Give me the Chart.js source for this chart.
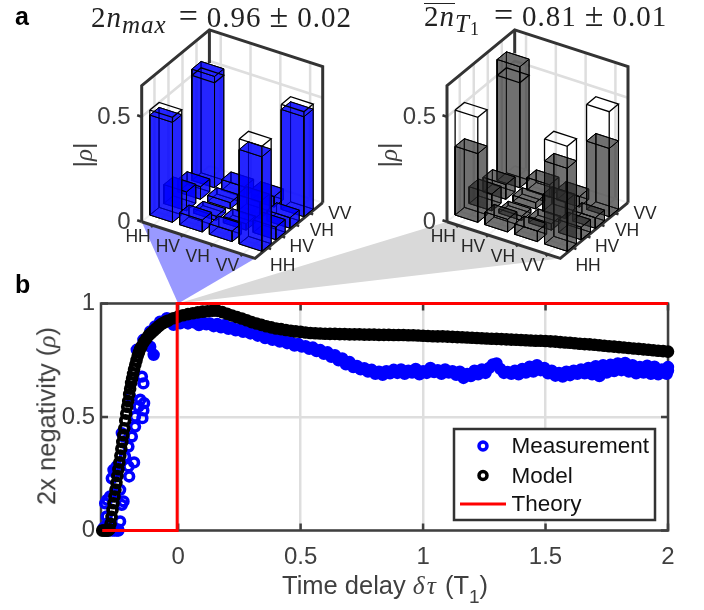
<!DOCTYPE html>
<html>
<head>
<meta charset="utf-8">
<script src="https://cdn.jsdelivr.net/npm/chart.js@4"></script>
<style>
    html, body { margin: 0; padding: 0; background: #fff; }
    #wrap { position: relative; width: 704px; height: 610px; overflow: hidden; }
    canvas { position: absolute; left: 0; top: 0; }
    .txt { position: absolute; white-space: nowrap; line-height: 1; }
    .sans { font-family: "Liberation Sans", Arial, sans-serif; color: #404040; }
    .sans i { font-family: "Liberation Serif", serif; }
    .tex { font-family: "Liberation Serif", serif; color: #222; font-size: 29px; letter-spacing: 1px; }
    .tex sub { font-size: 25px; vertical-align: -6px; line-height: 0; }
    .tex .op { font-size: 34px; line-height: 0; margin: 0 8px; }
    .tag { font-family: "Liberation Sans", Arial, sans-serif; font-weight: bold; font-size: 25px; color: #000; }
</style>
</head>
<body>
<div id="wrap">
    <canvas id="densityChart" width="704" height="610"></canvas>
    <canvas id="negativityChart" width="704" height="610"></canvas>
    <div class="txt tag" style="left:15px;top:4px">a</div>
    <div class="txt tag" style="left:15px;top:272px">b</div>
    <div class="txt tex" style="left:91px;top:3px">2<i>n<sub>max</sub></i><span class="op" style="margin-left:12px">=</span>0.96<span class="op">±</span>0.02</div>
    <div class="txt tex" style="left:424px;top:2px"><span style="display:inline-block;border-top:1.5px solid #222;line-height:24px;height:24px">2<i>n</i></span><i><sub>T<span style="font-size:18px;vertical-align:-3px;font-style:normal">1</span></sub></i><span class="op" style="margin-left:14px">=</span>0.81<span class="op">±</span>0.01</div>
    <div class="txt sans" style="left:282px;top:573px;font-size:25.5px">Time delay <i style="letter-spacing:2px">δτ</i> (T<sub style="font-size:19px;vertical-align:-9px;line-height:0">1</sub>)</div>
    <div class="txt sans" style="left:47px;top:416px;font-size:25.5px;transform:translate(-50%,-50%) rotate(-90deg)">2x negativity (<i>ρ</i>)</div>
    <div class="txt sans" style="left:83px;top:155px;font-size:25px;transform:translate(-50%,-50%) rotate(-90deg)">|<i>ρ</i>|</div>
    <div class="txt sans" style="left:388px;top:155px;font-size:25px;transform:translate(-50%,-50%) rotate(-90deg)">|<i>ρ</i>|</div>
</div>
<script>
// Panel a: density matrix bars, rows go along the front left axis
const basisLabels = ['HH', 'HV', 'VH', 'VV'];
const rhoMeasured = [
    [0.476, 0.09, 0.06, 0.53],
    [0.057, 0.02, 0.03, 0.05],
    [0.05, 0.03, 0.08, 0.05],
    [0.45, 0.06, 0.05, 0.476]
];
const rhoAveraged = [
    [0.327, 0.08, 0.07, 0.576],
    [0.06, 0.02, 0.03, 0.06],
    [0.05, 0.03, 0.08, 0.05],
    [0.395, 0.06, 0.05, 0.325]
];
const rhoIdeal = [
    [0.5, 0, 0, 0.5],
    [0, 0, 0, 0],
    [0, 0, 0, 0],
    [0.5, 0, 0, 0.5]
];
const rhoTicks = [0, 0.5];
const rhoTop = 0.648;

// Panel b
const delayTicks = [0, 0.5, 1, 1.5, 2];
const negativityTicks = [0, 0.5, 1];
const theoryX = [-0.31, -0.004, -0.004, 2];
const theoryY = [0, 0, 1, 1];
const modelX = [-0.31, -0.304, -0.298, -0.292, -0.286, -0.28, -0.276, -0.272, -0.268, -0.264, -0.26, -0.256, -0.252, -0.248, -0.244, -0.24, -0.236, -0.232, -0.228, -0.224, -0.22, -0.216, -0.212, -0.208, -0.204, -0.2, -0.196, -0.192, -0.188, -0.184, -0.18, -0.175, -0.17, -0.165, -0.16, -0.155, -0.15, -0.14, -0.13, -0.12, -0.11, -0.1, -0.09, -0.08, -0.07, -0.06, -0.05, -0.04, -0.02, 0, 0.02, 0.04, 0.06, 0.08, 0.1, 0.12, 0.14, 0.16, 0.18, 0.2, 0.22, 0.24, 0.26, 0.28, 0.3, 0.32, 0.34, 0.36, 0.38, 0.4, 0.42, 0.44, 0.46, 0.48, 0.5, 0.52, 0.54, 0.56, 0.58, 0.6, 0.62, 0.64, 0.66, 0.68, 0.7, 0.72, 0.74, 0.76, 0.78, 0.8, 0.82, 0.84, 0.86, 0.88, 0.9, 0.92, 0.94, 0.96, 0.98, 1, 1.02, 1.04, 1.06, 1.08, 1.1, 1.12, 1.14, 1.16, 1.18, 1.2, 1.22, 1.24, 1.26, 1.28, 1.3, 1.32, 1.34, 1.36, 1.38, 1.4, 1.42, 1.44, 1.46, 1.48, 1.5, 1.52, 1.54, 1.56, 1.58, 1.6, 1.62, 1.64, 1.66, 1.68, 1.7, 1.72, 1.74, 1.76, 1.78, 1.8, 1.82, 1.84, 1.86, 1.88, 1.9, 1.92, 1.94, 1.96, 1.98, 2];
const modelY = [0, 0, 0, 0, 0, 0.005, 0.03, 0.06, 0.09, 0.12, 0.15, 0.18, 0.21, 0.24, 0.27, 0.3, 0.33, 0.36, 0.39, 0.42, 0.45, 0.485, 0.515, 0.545, 0.57, 0.6, 0.625, 0.65, 0.67, 0.69, 0.71, 0.73, 0.75, 0.77, 0.785, 0.8, 0.81, 0.83, 0.845, 0.86, 0.87, 0.88, 0.89, 0.9, 0.908, 0.915, 0.92, 0.925, 0.935, 0.942, 0.948, 0.953, 0.957, 0.961, 0.964, 0.966, 0.968, 0.968, 0.962, 0.955, 0.947, 0.94, 0.934, 0.926, 0.918, 0.912, 0.906, 0.9, 0.895, 0.89, 0.887, 0.883, 0.88, 0.877, 0.875, 0.872, 0.87, 0.869, 0.868, 0.867, 0.866, 0.866, 0.865, 0.865, 0.864, 0.864, 0.864, 0.863, 0.863, 0.863, 0.862, 0.862, 0.862, 0.861, 0.861, 0.861, 0.86, 0.86, 0.859, 0.858, 0.857, 0.856, 0.855, 0.855, 0.854, 0.853, 0.852, 0.851, 0.85, 0.849, 0.848, 0.847, 0.846, 0.845, 0.844, 0.843, 0.842, 0.841, 0.84, 0.839, 0.838, 0.837, 0.836, 0.836, 0.835, 0.833, 0.832, 0.83, 0.828, 0.827, 0.825, 0.823, 0.821, 0.82, 0.818, 0.816, 0.814, 0.812, 0.81, 0.808, 0.806, 0.804, 0.802, 0.8, 0.798, 0.796, 0.794, 0.792, 0.79, 0.788];
const measuredX = [-0.305, -0.295, -0.285, -0.28, -0.27, -0.26, -0.25, -0.245, -0.292, -0.285, -0.264, -0.244, -0.298, -0.223, -0.257, -0.278, -0.237, -0.237, -0.23, -0.29, -0.271, -0.264, -0.251, -0.257, -0.2, -0.203, -0.18, -0.217, -0.203, -0.23, -0.223, -0.189, -0.176, -0.176, -0.146, -0.142, -0.139, -0.155, -0.162, -0.196, -0.142, -0.148, -0.169, -0.142, -0.1, -0.114, -0.094, -0.114, -0.074, -0.046, -0.019, 0.008, 0.025, 0.04, 0.055, 0.07, 0.085, 0.1, 0.115, 0.13, 0.145, 0.16, 0.175, 0.19, 0.205, 0.22, 0.235, 0.25, 0.265, 0.28, 0.295, 0.31, 0.325, 0.34, 0.355, 0.37, 0.385, 0.4, 0.415, 0.43, 0.445, 0.46, 0.475, 0.49, 0.505, 0.52, 0.535, 0.55, 0.565, 0.58, 0.595, 0.61, 0.625, 0.64, 0.655, 0.67, 0.685, 0.7, 0.715, 0.73, 0.745, 0.76, 0.775, 0.79, 0.805, 0.82, 0.835, 0.85, 0.865, 0.88, 0.895, 0.91, 0.925, 0.94, 0.955, 0.97, 0.985, 1, 1.015, 1.03, 1.045, 1.06, 1.075, 1.09, 1.105, 1.12, 1.135, 1.15, 1.165, 1.18, 1.195, 1.21, 1.225, 1.24, 1.255, 1.27, 1.285, 1.3, 1.315, 1.33, 1.345, 1.36, 1.375, 1.39, 1.405, 1.42, 1.435, 1.45, 1.465, 1.48, 1.495, 1.51, 1.525, 1.54, 1.555, 1.57, 1.585, 1.6, 1.615, 1.63, 1.645, 1.66, 1.675, 1.69, 1.705, 1.72, 1.735, 1.75, 1.765, 1.78, 1.795, 1.81, 1.825, 1.84, 1.855, 1.87, 1.885, 1.9, 1.915, 1.93, 1.945, 1.96, 1.975, 1.99, 2, 2, 1.995];
const measuredY = [0.01, 0.02, 0, 0.005, 0, 0, 0, 0.005, 0.062, 0.032, 0.003, 0, 0.12, 0.128, 0.164, 0.15, 0.179, 0.04, 0.113, 0.135, 0.23, 0.267, 0.282, 0.253, 0.238, 0.282, 0.3, 0.326, 0.37, 0.429, 0.414, 0.414, 0.458, 0.502, 0.495, 0.529, 0.561, 0.576, 0.546, 0.59, 0.648, 0.678, 0.796, 0.84, 0.774, 0.81, 0.899, 0.877, 0.92, 0.935, 0.906, 0.913, 0.92, 0.912, 0.925, 0.915, 0.905, 0.918, 0.908, 0.912, 0.9, 0.91, 0.895, 0.905, 0.888, 0.893, 0.882, 0.888, 0.875, 0.878, 0.868, 0.872, 0.858, 0.862, 0.848, 0.855, 0.84, 0.846, 0.832, 0.838, 0.825, 0.83, 0.815, 0.822, 0.81, 0.812, 0.8, 0.806, 0.79, 0.795, 0.778, 0.785, 0.765, 0.772, 0.75, 0.758, 0.732, 0.742, 0.72, 0.725, 0.71, 0.715, 0.7, 0.708, 0.69, 0.7, 0.686, 0.702, 0.692, 0.708, 0.694, 0.71, 0.69, 0.704, 0.696, 0.712, 0.688, 0.702, 0.694, 0.716, 0.698, 0.706, 0.69, 0.71, 0.696, 0.702, 0.686, 0.7, 0.672, 0.69, 0.68, 0.704, 0.688, 0.71, 0.694, 0.716, 0.732, 0.736, 0.712, 0.694, 0.698, 0.69, 0.704, 0.688, 0.712, 0.696, 0.722, 0.7, 0.728, 0.706, 0.716, 0.692, 0.704, 0.682, 0.694, 0.678, 0.7, 0.684, 0.704, 0.69, 0.71, 0.692, 0.716, 0.688, 0.724, 0.68, 0.728, 0.696, 0.73, 0.702, 0.736, 0.706, 0.738, 0.7, 0.728, 0.692, 0.72, 0.696, 0.726, 0.69, 0.722, 0.688, 0.71, 0.694, 0.72, 0.705, 0.69];

// Legend and text colours
const seriesNames = ['Measurement', 'Model', 'Theory'];
const blue = 'rgb(0,0,255)';
const red = 'rgb(255,0,0)';
const axisColor = '#404040';
const gridColor = '#dedede';
const clear = 'rgba(0,0,0,0)';

// Panel b, the plot area sits at fixed pixels
const negativityChart = new Chart(document.getElementById('negativityChart').getContext('2d'), {
    type: 'scatter',
    data: {
        datasets: [
            {
                label: seriesNames[2],
                data: theoryX.map((x, i) => ({ x: x, y: theoryY[i] })),
                showLine: true, pointRadius: 0, borderColor: red, borderWidth: 3, clip: false
            },
            {
                label: seriesNames[1],
                data: modelX.map((x, i) => ({ x: x, y: modelY[i] })),
                pointRadius: 4.4, pointBorderWidth: 3.8, pointBorderColor: '#000', clip: false,
                // rings overlap so much past the rise that they read as a solid band
                pointBackgroundColor: c => (modelX[c.dataIndex] > -0.15 ? '#000' : clear)
            },
            {
                label: seriesNames[0],
                data: measuredX.map((x, i) => ({ x: x, y: measuredY[i] })),
                pointRadius: 4.4, pointBorderWidth: 3.6, pointBorderColor: blue, clip: false,
                pointBackgroundColor: c => (measuredX[c.dataIndex] > -0.12 ? blue : clear)
            }
        ]
    },
    options: {
        responsive: false,
        animation: false,
        layout: { padding: { top: 303.5, right: 36, left: 0, bottom: 0 } },
        plugins: { legend: { display: false }, tooltip: { enabled: false } },
        scales: {
            x: {
                min: -0.315,
                max: 2,
                afterFit: scale => { scale.height = 79.5; },
                afterBuildTicks: scale => { scale.ticks = delayTicks.map(v => ({ value: v })); },
                grid: { color: gridColor, lineWidth: 2.5, drawTicks: false },
                border: { display: false },
                ticks: {
                    color: axisColor, padding: 12, maxRotation: 0, autoSkip: false,
                    font: { family: '"Liberation Sans"', size: 24 },
                    callback: v => String(v)
                }
            },
            y: {
                min: 0,
                max: 1,
                afterFit: scale => { scale.width = 101; },
                afterBuildTicks: scale => { scale.ticks = negativityTicks.map(v => ({ value: v })); },
                grid: { color: gridColor, lineWidth: 2.5, drawTicks: false },
                border: { display: false },
                ticks: {
                    color: axisColor, padding: 6,
                    font: { family: '"Liberation Sans"', size: 24 },
                    callback: v => String(v)
                }
            }
        }
    },
    plugins: [{
        id: 'matlabBox',
        beforeDatasetsDraw(chart) {
            const { ctx, chartArea: a, scales } = chart;
            ctx.save();
            ctx.strokeStyle = axisColor;
            ctx.lineWidth = 2.5;
            ctx.strokeRect(a.left, a.top, a.right - a.left, a.bottom - a.top);
            // ticks point inwards on all four sides
            ctx.beginPath();
            delayTicks.forEach(v => {
                const x = scales.x.getPixelForValue(v);
                ctx.moveTo(x, a.bottom); ctx.lineTo(x, a.bottom - 7);
                ctx.moveTo(x, a.top); ctx.lineTo(x, a.top + 7);
            });
            negativityTicks.forEach(v => {
                const y = scales.y.getPixelForValue(v);
                ctx.moveTo(a.left, y); ctx.lineTo(a.left + 7, y);
                ctx.moveTo(a.right, y); ctx.lineTo(a.right - 7, y);
            });
            ctx.stroke();
            ctx.restore();
        },
        afterDraw(chart) {
            // legend box inside the plot
            const ctx = chart.ctx;
            const rows = [446, 475.5, 504];
            ctx.save();
            ctx.fillStyle = '#fff';
            ctx.strokeStyle = '#333';
            ctx.lineWidth = 2.5;
            ctx.fillRect(454, 429, 201, 91);
            ctx.strokeRect(454, 429, 201, 91);
            ctx.lineWidth = 3.5;
            ctx.strokeStyle = blue;
            ctx.beginPath(); ctx.arc(483, rows[0], 4, 0, Math.PI * 2); ctx.stroke();
            ctx.strokeStyle = '#000';
            ctx.beginPath(); ctx.arc(483, rows[1], 4, 0, Math.PI * 2); ctx.stroke();
            ctx.lineWidth = 3;
            ctx.strokeStyle = red;
            ctx.beginPath(); ctx.moveTo(460, rows[2]); ctx.lineTo(506, rows[2]); ctx.stroke();
            ctx.fillStyle = '#111';
            ctx.font = '22.5px "Liberation Sans"';
            ctx.textBaseline = 'middle';
            seriesNames.forEach((name, i) => ctx.fillText(name, 511.5, rows[i] + 1));
            ctx.restore();
        }
    }]
});

// Orthographic view of the 3D axes, in canvas pixels
const floorLeft = [141.7, 221.7];
const edgeA = [113.3, 36.7];
const edgeB = [67.7, -55.7];
const zPerUnit = 210;
const panelShift = 305.3;
const cellA = [0, 0.263, 0.526, 0.789];
const cellB = [0.12, 0.327, 0.534, 0.741];
const widthA = 0.2;
const widthB = 0.137;

function project(a, b, z, dx) {
    return {
        x: floorLeft[0] + a * edgeA[0] + b * edgeB[0] + dx,
        y: floorLeft[1] + a * edgeA[1] + b * edgeB[1] - z * zPerUnit
    };
}

function polygon(points, stroke, lineWidth, fill) {
    return {
        data: points,
        showLine: true,
        pointRadius: 0,
        borderColor: stroke,
        borderWidth: lineWidth,
        backgroundColor: fill || clear,
        fill: fill ? 'shape' : false,
        clip: false
    };
}

// Draws one walled box with its bars, later entries paint on top
function addPanel(list, values, ideal, dx, faceColor) {
    const P = (a, b, z) => project(a, b, z, dx);
    const light = gridColor;
    const dark = '#333';

    // floor and wall grid
    cellB.forEach(b0 => {
        const b = b0 + widthB / 2;
        list.push(polygon([P(0, b, 0), P(0, b, rhoTop)], light, 2.5));
        list.push(polygon([P(0, b, 0), P(1, b, 0)], '#f0f0f0', 2));
    });
    cellA.forEach(a0 => {
        const a = a0 + widthA / 2;
        list.push(polygon([P(a, 1, 0), P(a, 1, rhoTop)], light, 2.5));
        list.push(polygon([P(a, 0, 0), P(a, 1, 0)], '#f0f0f0', 2));
    });
    list.push(polygon([P(0, 0, 0.5), P(0, 1, 0.5), P(1, 1, 0.5)], light, 2.5));
    list.push(polygon([P(0, 1, 0), P(0, 0, 0)], '#f0f0f0', 2));
    list.push(polygon([P(0, 1, 0), P(1, 1, 0)], '#f0f0f0', 2));

    // box outline, the back edge stops where the tall bar hides it
    list.push(polygon([P(0, 0, 0), P(0, 0, rhoTop), P(0, 1, rhoTop), P(1, 1, rhoTop), P(1, 1, 0)], dark, 3));
    list.push(polygon([P(0, 1, values[0][3] - 0.04), P(0, 1, rhoTop)], dark, 3));
    list.push(polygon([P(0, 0, 0), P(1, 0, 0), P(1, 1, 0)], dark, 3));

    // ticks
    rhoTicks.forEach(z => list.push(polygon([P(0, 0, z), P(-0.04, 0, z)], dark, 2.5)));
    cellA.forEach(a0 => {
        const a = a0 + widthA / 2;
        list.push(polygon([P(a, 0, 0), P(a, -0.03, 0)], dark, 2.5));
    });
    cellB.forEach(b0 => {
        const b = b0 + widthB / 2;
        list.push(polygon([P(1, b, 0), P(1.03, b, 0)], dark, 2.5));
    });

    // bars, back corner first
    for (let i = 0; i < 4; i++) {
        for (let j = 3; j >= 0; j--) {
            const a0 = cellA[i], a1 = a0 + widthA;
            const b0 = cellB[j], b1 = b0 + widthB;
            const h = values[i][j];
            const faces = [
                [P(a0, b0, 0), P(a1, b0, 0), P(a1, b1, 0), P(a0, b1, 0)],
                [P(a0, b0, 0), P(a0, b1, 0), P(a0, b1, h), P(a0, b0, h)],
                [P(a0, b1, 0), P(a1, b1, 0), P(a1, b1, h), P(a0, b1, h)],
                [P(a0, b0, 0), P(a1, b0, 0), P(a1, b0, h), P(a0, b0, h)],
                [P(a1, b0, 0), P(a1, b1, 0), P(a1, b1, h), P(a1, b0, h)],
                [P(a0, b0, h), P(a1, b0, h), P(a1, b1, h), P(a0, b1, h)]
            ];
            faces.forEach(f => list.push(polygon(f.concat([f[0]]), '#000', 1, faceColor)));

            // outline of the ideal state
            const g = ideal[i][j];
            if (g > 0) {
                const top = [P(a0, b0, g), P(a1, b0, g), P(a1, b1, g), P(a0, b1, g)];
                list.push(polygon(top.concat([top[0]]), '#000', 1.3));
                [[a0, b0], [a1, b0], [a1, b1]].forEach(c => {
                    list.push(polygon([P(c[0], c[1], Math.min(h, g)), P(c[0], c[1], g)], '#000', 1.3));
                });
            }
        }
    }
}

// Triangles that tie panel a to the corner of panel b
const apex = {
    x: negativityChart.scales.x.getPixelForValue(0),
    y: negativityChart.scales.y.getPixelForValue(1)
};
const densitySets = [];
densitySets.push(polygon([project(0, 0, 0, 0), project(1, 0, 0, 0), apex, project(0, 0, 0, 0)], clear, 0, '#9999ff'));
densitySets.push(polygon([project(0, 0, 0, panelShift), project(1, 0, 0, panelShift), apex, project(0, 0, 0, panelShift)], clear, 0, '#d9d9d9'));
addPanel(densitySets, rhoMeasured, rhoIdeal, 0, 'rgba(0,0,255,0.62)');
addPanel(densitySets, rhoAveraged, rhoIdeal, panelShift, 'rgba(40,40,40,0.42)');

new Chart(document.getElementById('densityChart').getContext('2d'), {
    type: 'scatter',
    data: { datasets: densitySets.reverse() },
    options: {
        responsive: false,
        animation: false,
        layout: { padding: 0 },
        plugins: { legend: { display: false }, tooltip: { enabled: false } },
        scales: {
            x: { display: false, min: 0, max: 704 },
            y: { display: false, min: 0, max: 610, reverse: true }
        }
    },
    plugins: [{
        id: 'panelText',
        afterDatasetsDraw(chart) {
            const ctx = chart.ctx;
            const shiftsB = [[15, 18], [20, 11], [26, 6], [30, 1]];
            ctx.save();
            ctx.textAlign = 'center';
            ctx.textBaseline = 'middle';
            [0, panelShift].forEach(dx => {
                ctx.fillStyle = '#262626';
                ctx.font = '17.5px "Liberation Sans"';
                basisLabels.forEach((name, k) => {
                    const pa = project(cellA[k] + widthA / 2, 0, 0, dx);
                    ctx.fillText(name, pa.x - 15, pa.y + 12);
                    const pb = project(1, cellB[k] + widthB / 2, 0, dx);
                    ctx.fillText(name, pb.x + shiftsB[k][0], pb.y + shiftsB[k][1]);
                });
                ctx.fillStyle = axisColor;
                ctx.font = '24px "Liberation Sans"';
                ctx.textAlign = 'right';
                rhoTicks.forEach(z => {
                    const p = project(0, 0, z, dx);
                    ctx.fillText(String(z), p.x - 11, p.y + 1);
                });
                ctx.textAlign = 'center';
            });
            ctx.restore();
        }
    }]
});
</script>
</body>
</html>
